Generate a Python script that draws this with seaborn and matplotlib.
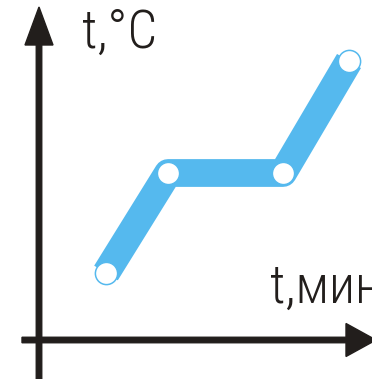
"""Heating curve sketch: temperature vs time with a flat melting plateau."""

import matplotlib
matplotlib.use("Agg")
from matplotlib import pyplot as plt
from matplotlib import font_manager as fm
import seaborn as sb

# data (arbitrary units, origin at the axes crossing)
time_min = [6.7, 12.9, 24.4, 31.0]
temp_c = [6.7, 16.7, 16.7, 27.9]
y_label = "t,°C"
x_label = "t,мин"

line_blue = "#55b9ee"
axis_black = "#221e1c"

# pick a thin condensed face if one is around
have = {f.name for f in fm.fontManager.ttflist}
wanted = ['Roboto Condensed', 'PT Sans Narrow', 'Arimo', 'Roboto']
fams = [f for f in wanted if f in have] + ['DejaVu Sans']

sb.set_style("white")
plt.rcParams['font.family'] = fams

fig = plt.figure(figsize=(3.72, 3.79), dpi=100)
ax = fig.add_axes([0, 0, 1, 1])
ax.set_xlim(-3.9, 33.3)
ax.set_ylim(-3.9, 34.0)
ax.set_axis_off()

# axes with arrow heads
ax.arrow(0, -4, 0, 37.3, width=0.55, head_width=2.8, head_length=3.8,
         length_includes_head=True, color=axis_black, zorder=1)
ax.arrow(-1.7, 0, 35.4, 0, width=0.55, head_width=3.3, head_length=3.0,
         length_includes_head=True, color=axis_black, zorder=1)

# the curve
sb.lineplot(x=time_min, y=temp_c, ax=ax, color=line_blue, linewidth=20,
            marker="o", markersize=16, markerfacecolor="white",
            markeredgecolor=line_blue, markeredgewidth=1.1, zorder=3)
for ln in ax.lines:
    ln.set_solid_capstyle("butt")
    ln.set_solid_joinstyle("round")

ax.text(4.3, 29.2, y_label, fontsize=38, fontweight="light", color=axis_black,
        ha="left", va="baseline")
ax.text(23.1, 3.7, x_label, fontsize=38, fontweight="light", color=axis_black,
        ha="left", va="baseline")

plt.savefig("out.png", dpi=100)
